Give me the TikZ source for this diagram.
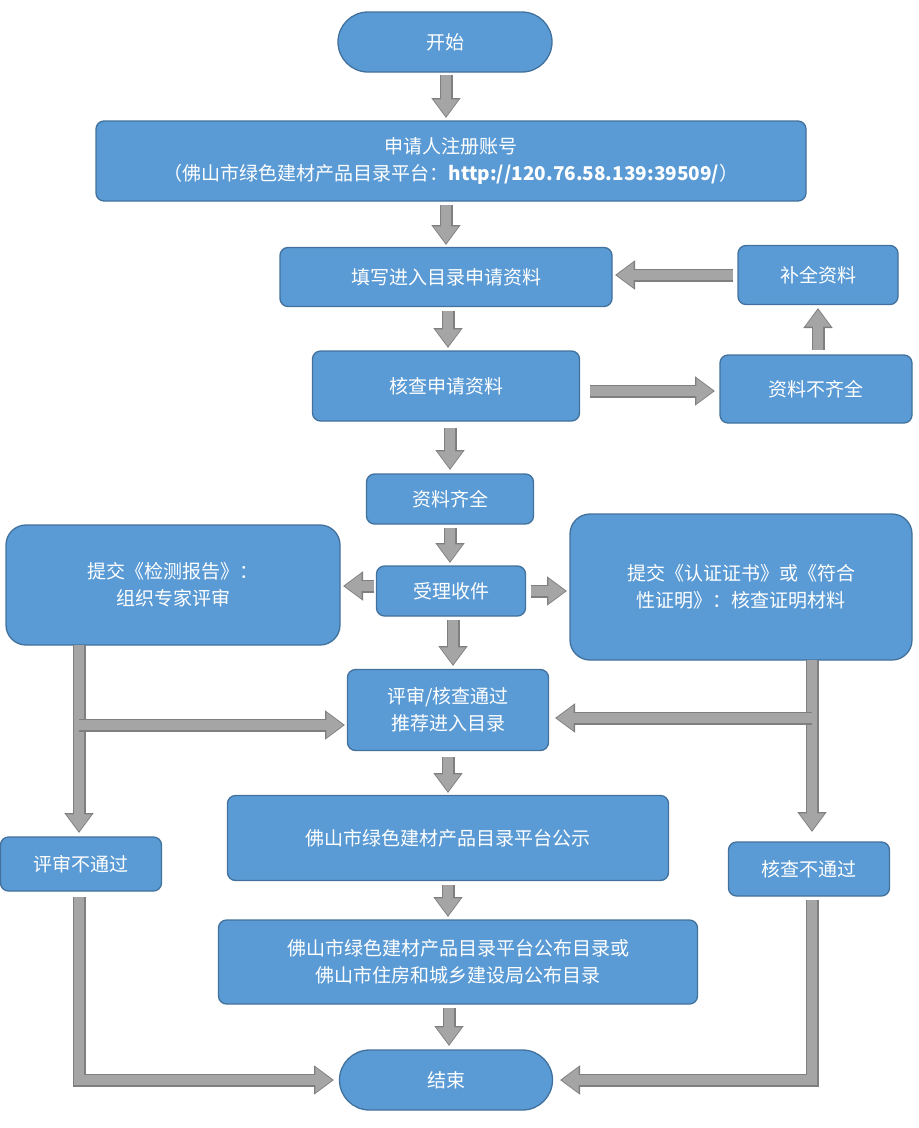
\documentclass[tikz,border=0pt]{standalone}
\usepackage{fontspec}
\setmainfont{Noto Sans CJK SC}
\usetikzlibrary{arrows.meta}
\definecolor{bfill}{HTML}{5B9BD5}
\definecolor{bdraw}{HTML}{41719C}
\definecolor{afill}{HTML}{A5A5A5}
\definecolor{adraw}{HTML}{7F7F7F}
\tikzset{
  box/.style={draw=bdraw,line width=1.3pt,fill=bfill,text=white,rounded corners=8pt,align=center,font=\fontsize{19}{27}\selectfont,inner sep=0pt},
  term/.style={box,rounded corners=30pt},
  big/.style={box,rounded corners=20pt},
  fatA/.style={draw=adraw,line width=13pt,-{Triangle[length=20pt,width=28pt]}},
  fatB/.style={draw=afill,line width=10pt,-{Triangle[length=17pt,width=24pt]}, shorten >=1.6pt},
}
\newcommand{\fat}[1]{\draw[fatA] #1; \draw[fatB] #1;}
\begin{document}
\begin{tikzpicture}[x=1pt,y=-1pt]
\useasboundingbox (0,0) rectangle (919,1128);
\node[term,minimum width=214pt,minimum height=60pt] (start) at (445,42) {开始};
\node[box,minimum width=710pt,minimum height=80pt] (reg) at (451,161) {申请人注册账号\\（佛山市绿色建材产品目录平台：\textbf{http://120.76.58.139:39509/}）};
\node[box,minimum width=332pt,minimum height=59pt] (fill) at (446,277) {填写进入目录申请资料};
\node[box,minimum width=160pt,minimum height=59pt] (buquan) at (818,275) {补全资料};
\node[box,minimum width=267pt,minimum height=70pt] (check) at (446,386) {核查申请资料};
\node[box,minimum width=192pt,minimum height=68pt] (buqi) at (816,389) {资料不齐全};
\node[box,minimum width=167pt,minimum height=50pt] (qiquan) at (450,499) {资料齐全};
\node[big,minimum width=334pt,minimum height=120pt] (jiance) at (173,585) {提交《检测报告》：\\组织专家评审};
\node[box,minimum width=149pt,minimum height=50pt] (shouli) at (451,591) {受理收件};
\node[big,minimum width=342pt,minimum height=146pt] (renz) at (741,587) {提交《认证证书》或《符合\\性证明》：核查证明材料};
\node[box,minimum width=201pt,minimum height=81pt] (pass) at (448,710) {评审/核查通过\\推荐进入目录};
\node[box,minimum width=441pt,minimum height=85pt] (gongshi) at (448,838) {佛山市绿色建材产品目录平台公示};
\node[box,minimum width=161pt,minimum height=54pt] (fail1) at (81,864) {评审不通过};
\node[box,minimum width=161pt,minimum height=54pt] (fail2) at (809,869) {核查不通过};
\node[box,minimum width=479pt,minimum height=84pt] (pub) at (458,962) {佛山市绿色建材产品目录平台公布目录或\\佛山市住房和城乡建设局公布目录};
\node[term,minimum width=213pt,minimum height=60pt] (end) at (446,1080) {结束};
\coordinate (j1) at (79,725);
\coordinate (j2) at (812,718);
\fat{(446,75) -- (446,118)}
\fat{(446,205) -- (446,245)}
\fat{(733,275) -- (615,275)}
\fat{(448,311) -- (448,348)}
\fat{(818,350) -- (818,308)}
\fat{(590,391) -- (715,391)}
\fat{(450,428) -- (450,470)}
\fat{(450,528) -- (450,563)}
\fat{(374,586) -- (343,586)}
\fat{(531,591) -- (567,591)}
\fat{(453,620) -- (453,666)}
\fat{(79,645) -- (79,833)}
\fat{(j1) -- (345,725)}
\fat{(812,660) -- (812,832)}
\fat{(j2) -- (555,718)}
\fat{(448,757) -- (448,793)}
\fat{(448,885) -- (448,917)}
\fat{(449,1008) -- (449,1046)}
\fat{(79,897) -- (79,1080) -- (334,1080)}
\fat{(812,900) -- (812,1080) -- (560,1080)}
\end{tikzpicture}
\end{document}
